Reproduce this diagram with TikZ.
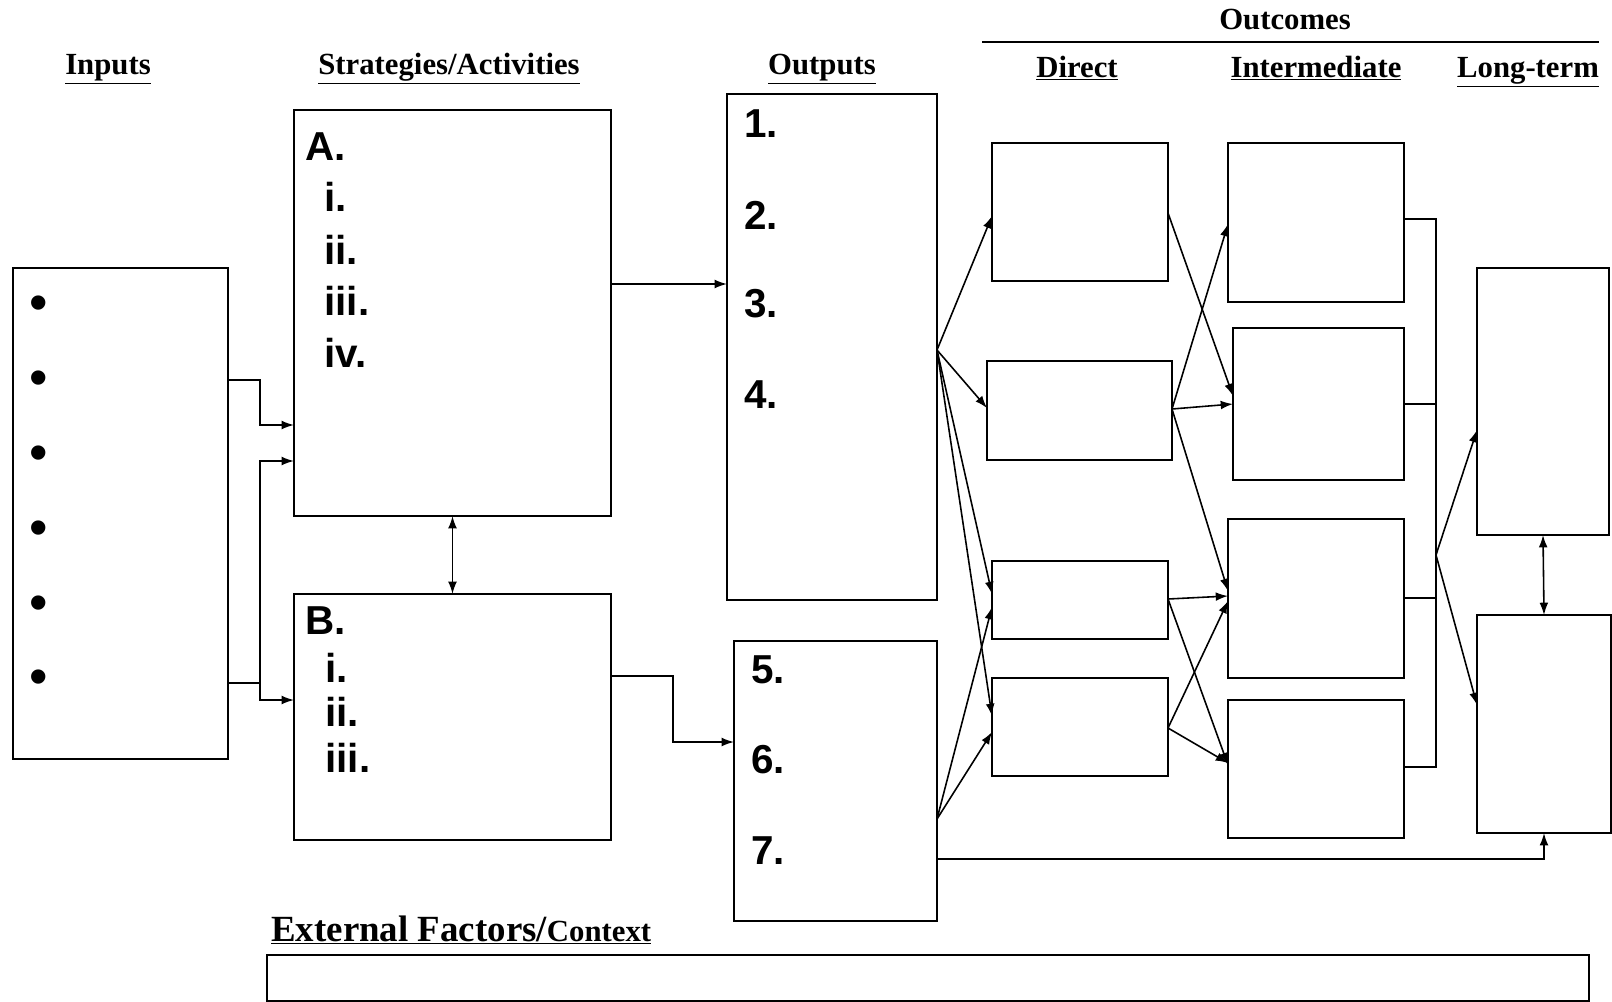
\documentclass[tikz,border=0pt]{standalone}
\usepackage{fontspec}
\setmainfont{Liberation Serif}
\newfontfamily\labfont{Liberation Sans}
\usetikzlibrary{arrows.meta}

% rectangle node given by its corners (x1,y1) and (x2,y2), in picture units
\newcommand\rbox[5]{%
  \node[box, minimum width={(#4-#2)*0.02cm}, minimum height={(#5-#3)*0.02cm}]
    (#1) at ({(#2+#4)/2},{(#3+#5)/2}) {};}

\begin{document}
\begin{tikzpicture}[x=0.02cm, y=-0.02cm,
  box/.style={draw, line width=1.1pt, inner sep=0pt, outer sep=0pt},
  conn/.style={line width=0.9pt},
  arr/.style={conn, -{Latex[length=7pt,width=5pt]}},
  darr/.style={conn, {Latex[length=7pt,width=5pt]}-{Latex[length=7pt,width=5pt]}},
  head/.style={font=\fontsize{17.5}{20}\selectfont\bfseries, anchor=base, inner sep=0pt},
  lab/.style={font=\labfont\fontsize{23}{27}\selectfont\bfseries, anchor=base west, inner sep=0pt},
  dot/.style={font=\labfont\fontsize{30}{34}\selectfont, anchor=base, inner sep=0pt},
]
\useasboundingbox (0,0) rectangle (1612,1001);

% column headings
\node[head] (hIn)  at (108,74)  {\underline{Inputs}};
\node[head] (hSA)  at (449,74)  {\underline{Strategies/Activities}};
\node[head] (hOut) at (822,74)  {\underline{Outputs}};
\node[head] (hOc)  at (1285,29) {Outcomes};
\draw[line width=1.2pt] (982,42) -- (1599,42);
\node[head] (hDir) at (1077,77) {\underline{Direct}};
\node[head] (hInt) at (1316,77) {\underline{Intermediate}};
\node[head] (hLT)  at (1528,77) {\underline{Long-term}};

% boxes
\rbox{inputs}{13}{268}{228}{759}
\rbox{A}{294}{110}{611}{516}
\rbox{B}{294}{594}{611}{840}
\rbox{outT}{727}{94}{937}{600}
\rbox{outB}{734}{641}{937}{921}
\rbox{D1}{992}{143}{1168}{281}
\rbox{D2}{987}{361}{1172}{460}
\rbox{D3}{992}{561}{1168}{639}
\rbox{D4}{992}{678}{1168}{776}
\rbox{I1}{1228}{143}{1404}{302}
\rbox{I2}{1233}{328}{1404}{480}
\rbox{I3}{1228}{519}{1404}{678}
\rbox{I4}{1228}{700}{1404}{838}
\rbox{L1}{1477}{268}{1609}{535}
\rbox{L2}{1477}{615}{1611}{833}
\rbox{ext}{267}{955}{1589}{1001}

% inputs bullets
\foreach \yy [count=\k] in {301,376,451,526,601,675}
  \node[dot] (b\k) at (39,\yy+19) {•};

% strategy and output labels
\node[lab] (tA)   at (305,160) {A.};
\node[lab] (tA1)  at (324,211) {i.};
\node[lab] (tA2)  at (324,264) {ii.};
\node[lab] (tA3)  at (324,315) {iii.};
\node[lab] (tA4)  at (324,367) {iv.};
\node[lab] (tB)   at (305,634) {B.};
\node[lab] (tB1)  at (325,682) {i.};
\node[lab] (tB2)  at (325,726) {ii.};
\node[lab] (tB3)  at (325,772) {iii.};
\node[lab] (o1) at (744,137) {1.};
\node[lab] (o2) at (744,229) {2.};
\node[lab] (o3) at (744,317) {3.};
\node[lab] (o4) at (744,408) {4.};
\node[lab] (o5) at (751,683) {5.};
\node[lab] (o6) at (751,773) {6.};
\node[lab] (o7) at (751,864) {7.};

% external factors heading
\node[anchor=base west, inner sep=0pt] (hExt) at (271,941)
  {\underline{\fontsize{21}{24}\selectfont\bfseries External Factors/\fontsize{17.5}{20}\selectfont Context}};

% inputs to strategies
\coordinate (jIn) at (260,683);
\draw[arr] (inputs.east |- 0,380) -| (260,425) -- (A.west |- 0,425);
\draw[conn] (inputs.east |- jIn) -- (jIn);
\draw[arr] (jIn) |- (A.west |- 0,461);
\draw[arr] (jIn) |- (B.west |- 0,700);
\draw[darr] (A.south) -- (B.north);

% strategies to outputs
\draw[arr] (A.east |- 0,284) -- (outT.west |- 0,284);
\draw[arr] (B.east |- 0,676) -| (673,742) -- (outB.west |- 0,742);

% outputs to direct outcomes
\coordinate (fT) at (outT.east |- 0,350);
\coordinate (fB) at (outB.east |- 0,819);
\draw[arr] (fT) -- (D1.west |- 0,216);
\draw[arr] (fT) -- (D2.west |- 0,408);
\draw[arr] (fT) -- (D3.west |- 0,594);
\draw[arr] (fT) -- (D4.west |- 0,716);
\draw[arr] (fB) -- (D3.west |- 0,607);
\draw[arr] (fB) -- (D4.west |- 0,732);

% direct to intermediate outcomes
\draw[arr] (D1.east |- 0,213) -- (I2.west |- 0,396);
\draw[arr] (D2.east |- 0,409) -- (I1.west |- 0,224);
\draw[arr] (D2.east |- 0,409) -- (I2.west |- 0,404);
\draw[arr] (D2.east |- 0,409) -- (I3.west |- 0,591);
\draw[arr] (D3.east |- 0,599) -- (I3.west |- 0,596);
\draw[arr] (D3.east |- 0,599) -- (I4.west |- 0,765);
\draw[arr] (D4.east |- 0,728) -- (I3.west |- 0,601);
\draw[arr] (D4.east |- 0,728) -- (I4.west |- 0,763);

% intermediate to long-term outcomes
\coordinate (brk) at (1436,555);
\draw[conn] (I1.east |- 0,219) -- (1436,219) -- (1436,767) -- (I4.east |- 0,767);
\draw[conn] (I2.east |- 0,404) -- (1436,404);
\draw[conn] (I3.east |- 0,598) -- (1436,598);
\draw[arr] (brk) -- (L1.west |- 0,430);
\draw[arr] (brk) -- (L2.west |- 0,705);
\draw[darr] (L1.south) -- (L2.north);
\draw[arr] (outB.east |- 0,859) -| (L2.south);
\end{tikzpicture}
\end{document}
